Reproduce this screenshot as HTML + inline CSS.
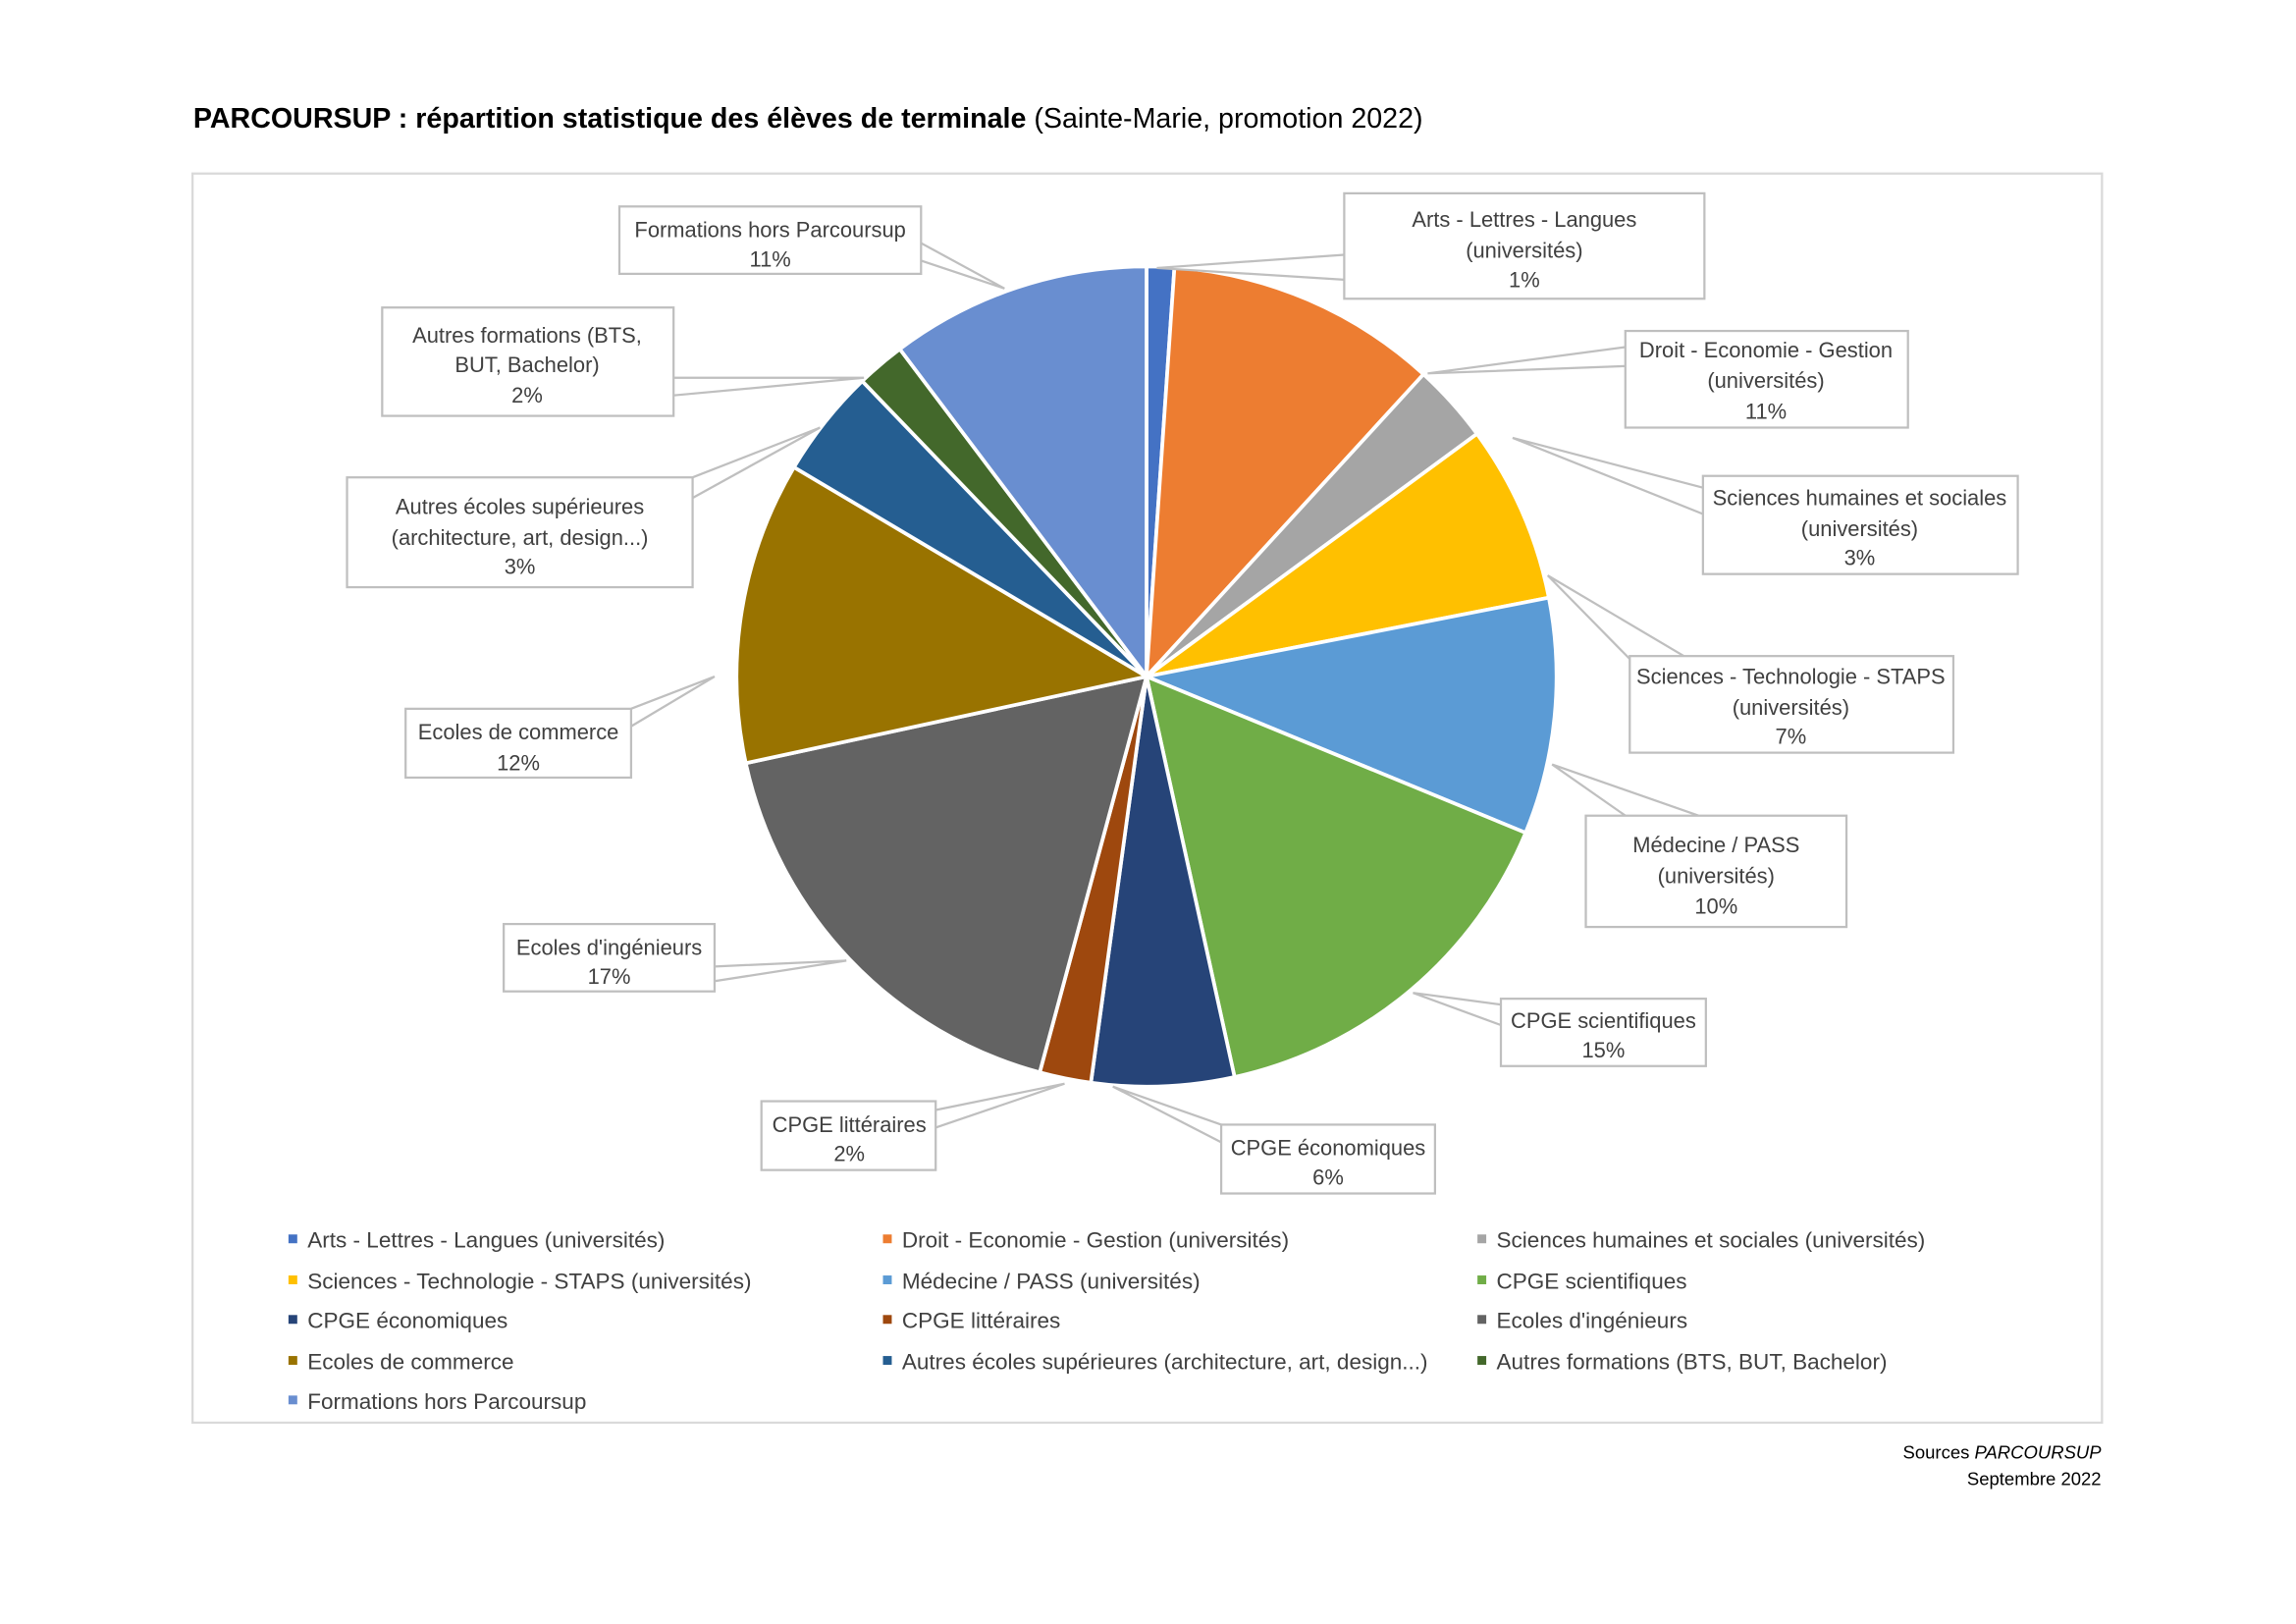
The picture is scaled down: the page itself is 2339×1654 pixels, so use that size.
<!DOCTYPE html>
<html><head><meta charset="utf-8"><style>
html,body{margin:0;padding:0;background:#fff;}
svg{display:block;}
text{font-family:"Liberation Sans",sans-serif;fill:#404040;}
</style></head><body>
<svg id="s" width="2339" height="1654" viewBox="0 0 1568 1109" preserveAspectRatio="none" xmlns="http://www.w3.org/2000/svg">
<rect width="1568" height="1109" fill="#fff"/>
<text x="132" y="87" font-size="19.2" style="fill:#000"><tspan font-weight="bold">PARCOURSUP : répartition statistique des élèves de terminale</tspan> (Sainte-Marie, promotion 2022)</text>
<rect x="131.5" y="118.5" width="1304" height="853" fill="none" stroke="#d9d9d9" stroke-width="1.5"/>
<g id="pie"></g>
<g stroke="#bfbfbf" stroke-width="1.5" fill="none">
<polyline points="629,166 686,197 629,178"/>
<polyline points="918,174 790,183 918,191"/>
<polyline points="1110,237 975,255 1110,250"/>
<polyline points="1163,333 1033,299 1163,351"/>
<polyline points="1113,450 1057,393 1150,448"/>
<polyline points="1160,557 1060,522 1110,557"/>
<polyline points="1025,686 965,678 1025,700"/>
<polyline points="834,768 760,742 834,780"/>
<polyline points="639,770 727,740 639,758"/>
<polyline points="488,660 578,656 488,670"/>
<polyline points="431,484 488,462 431,496"/>
<polyline points="473,326 560,292 473,340"/>
<polyline points="460,270 590,258 460,258"/>
</g>
<g fill="#fff" stroke="#bfbfbf" stroke-width="1.5">
<rect x="423" y="141" width="206" height="46"/>
<rect x="918" y="132" width="246" height="72"/>
<rect x="1110" y="226" width="193" height="66"/>
<rect x="1163" y="325" width="215" height="67"/>
<rect x="1113" y="448" width="221" height="66"/>
<rect x="1083" y="557" width="178" height="76"/>
<rect x="1025" y="682" width="140" height="46"/>
<rect x="834" y="768" width="146" height="47"/>
<rect x="520" y="752" width="119" height="47"/>
<rect x="344" y="631" width="144" height="46"/>
<rect x="277" y="484" width="154" height="47"/>
<rect x="237" y="326" width="236" height="75"/>
<rect x="261" y="210" width="199" height="74"/>
</g>
<g font-size="14.7" text-anchor="middle" transform="translate(0,2)">
<text x="526" y="160">Formations hors Parcoursup</text><text x="526" y="180">11%</text>
<text x="1041" y="153">Arts - Lettres - Langues</text><text x="1041" y="174">(universités)</text><text x="1041" y="194">1%</text>
<text x="1206" y="242">Droit - Economie - Gestion</text><text x="1206" y="263">(universités)</text><text x="1206" y="284">11%</text>
<text x="1270" y="343">Sciences humaines et sociales</text><text x="1270" y="364">(universités)</text><text x="1270" y="384">3%</text>
<text x="1223" y="465">Sciences - Technologie - STAPS</text><text x="1223" y="486">(universités)</text><text x="1223" y="506">7%</text>
<text x="1172" y="580">Médecine / PASS</text><text x="1172" y="601">(universités)</text><text x="1172" y="622">10%</text>
<text x="1095" y="700">CPGE scientifiques</text><text x="1095" y="720">15%</text>
<text x="907" y="787">CPGE économiques</text><text x="907" y="807">6%</text>
<text x="580" y="771">CPGE littéraires</text><text x="580" y="791">2%</text>
<text x="416" y="650">Ecoles d'ingénieurs</text><text x="416" y="670">17%</text>
<text x="354" y="503">Ecoles de commerce</text><text x="354" y="524">12%</text>
<text x="355" y="349">Autres écoles supérieures</text><text x="355" y="370">(architecture, art, design...)</text><text x="355" y="390">3%</text>
<text x="360" y="232">Autres formations (BTS,</text><text x="360" y="252">BUT, Bachelor)</text><text x="360" y="273">2%</text>
</g>
<g id="leg" font-size="15.1"></g>
<text x="1435" y="996" font-size="12.4" text-anchor="end" style="fill:#000">Sources <tspan font-style="italic">PARCOURSUP</tspan></text>
<text x="1435" y="1014" font-size="12.4" text-anchor="end" style="fill:#000">Septembre 2022</text>
</svg>
<script>
var cx=783,cy=462,r=280,ns="http://www.w3.org/2000/svg";
var b=[0,3.9,42.5,53.7,78.9,112.4,167.6,187.8,195.1,257.8,300.7,316.1,323,360];
var c=["#4472C4","#ED7D31","#A5A5A5","#FFC000","#5B9BD5","#70AD47","#264478","#9E480E","#636363","#997300","#255E91","#43682B","#698ED0"];
var names=["Arts - Lettres - Langues (universités)","Droit - Economie - Gestion (universités)","Sciences humaines et sociales (universités)","Sciences - Technologie - STAPS (universités)","Médecine / PASS (universités)","CPGE scientifiques","CPGE économiques","CPGE littéraires","Ecoles d'ingénieurs","Ecoles de commerce","Autres écoles supérieures (architecture, art, design...)","Autres formations (BTS, BUT, Bachelor)","Formations hors Parcoursup"];
function p(a){a=a*Math.PI/180;return [cx+r*Math.sin(a),cy-r*Math.cos(a)];}
var g=document.getElementById("pie");
for(var i=0;i<13;i++){var s=p(b[i]),e=p(b[i+1]),l=(b[i+1]-b[i])>180?1:0;
var el=document.createElementNS(ns,"path");
el.setAttribute("d","M"+cx+","+cy+"L"+s[0]+","+s[1]+"A"+r+","+r+" 0 "+l+" 1 "+e[0]+","+e[1]+"Z");
el.setAttribute("fill",c[i]);el.setAttribute("stroke","#fff");el.setAttribute("stroke-width","2.5");g.appendChild(el);}
var lg=document.getElementById("leg"),xs=[200,606,1012],ys=[847,875,902,930,957];
for(var i=0;i<13;i++){var x=xs[i%3],y=ys[Math.floor(i/3)];
var q=document.createElementNS(ns,"rect");q.setAttribute("x",x-3);q.setAttribute("y",y-4);q.setAttribute("width",6);q.setAttribute("height",6);q.setAttribute("fill",c[i]);lg.appendChild(q);
var t=document.createElementNS(ns,"text");t.setAttribute("x",x+10);t.setAttribute("y",y+5);t.textContent=names[i];lg.appendChild(t);}
</script>
</body></html>
